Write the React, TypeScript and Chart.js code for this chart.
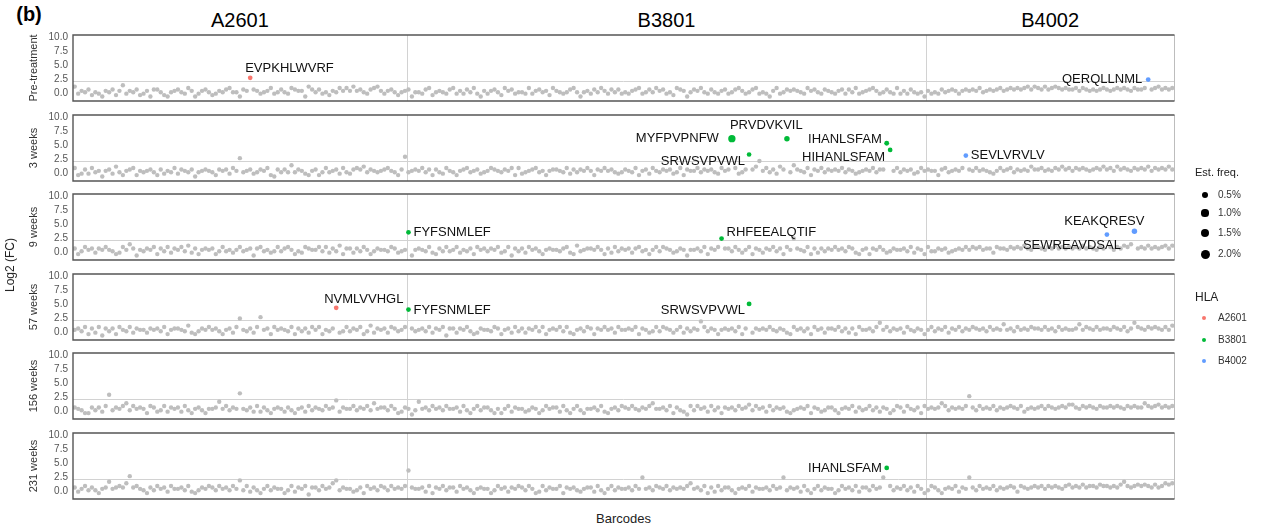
import React, { useEffect, useRef } from "react";
import { Chart, registerables } from "chart.js";

Chart.register(...registerables);

const FONT = '"Liberation Sans", Arial, sans-serif';

// ---------- data ----------
const GROUPS = ["A2601", "B3801", "B4002"];
const GROUP_SIZES = [97, 151, 72]; // barcodes per HLA allele
const PANELS = ["Pre-treatment", "3 weeks", "9 weeks", "57 weeks", "156 weeks", "231 weeks"];
const Y_TICKS = [0, 2.5, 5, 7.5, 10];
const THRESHOLD = 2.2;
const FREQ_LEGEND = [0.5, 1.0, 1.5, 2.0];
const HLA_COLORS = ["#F8766D", "#00BA38", "#619CFF"];

// Background (non-hit) barcodes, one character per barcode.
// Each character is a base-36 level in steps of 0.25 log2(FC), starting at -1.0 ('4' = 0.0).
const BG_PRE =
  "9465735426 5736a46573 4627753256 7548624675 3465785527 6876456845 7548766297 5745365868 " +
  "6967547896 4675356725 5478356547 8464758426 4675386745 5484675638 6545785256 4758647574 " +
  "5467845758 6745387625 7685475467 4578645784 5426845767 6548675476 5467475845 6786457548 " +
  "4647545264 5475676467 6768567678 6787878979 8797898787 7868767678 7678787687 7867897878";
const BG_W3 =
  "8347485626 7495367836 5675374658 4765725676 53767486f5 6745768327 575a576436 7358567485 " +
  "4787957656 786537g567 6857375486 5367856745 6876576838 4567856367 7658475768 6376867545 " +
  "7658367486 5767458376 6857675486 768457679d 685749765a 7658376857 6768576456 7685776768 " +
  "5767458676 6378567685 7686765468 6785767697 7867687978 6878767879 7869787687 8796878797";
const BG_W9 =
  "7358674768 653486a726 5768375847 6859473676 7358564685 6727856458 5786354876 6858475937 " +
  "7475863576 6587456726 7658437585 6846573867 5768458275 7486753676 6578439567 7686374857 " +
  "6747856368 5876457626 6758376857 7586468376 476857386e 7658374757 6867587436 7376864576 " +
  "6758476385 5767456768 6878677487 7687879768 8768797878 7879787687 7868798a87 8797878979";
const BG_W57 =
  "6758374827 5738658476 6476758367 7659435768 67536748e6 5748f67386 7658375748 6836576458 " +
  "5768359476 7487568375 6758476827 7476853476 6587367485 7476858367 6858436758 7376867486 " +
  "6768376458 5876468475 76c8576367 6758378476 7686576438 6757386747 7685747386 6758b68576 " +
  "7486576368 5768476857 6876758676 a675867687 7686758676 67a6876867 76876857b8 7687876869";
const BG_W156 =
  "7653375748 g5768a5867 6387458476 7485367536 67b68576h6 5748475367 6475367485 765867c476 " +
  "6857685a67 7586347625 b675867586 6748536857 7536368476 6457635867 7485368536 6758436758 " +
  "76865768a6 6758375428 5867485737 6758679586 7485767435 6768376457 7536768475 6857476358 " +
  "7486573867 67a8576768 f758676857 6787684676 7868767879 9768787687 7878768787 7a87897878";
const BG_W231 =
  "7468575367 b6787af786 5375867486 6758435768 75867586c5 8475368576 6358476827 75867ac576 " +
  "6457386758 7586768j76 6748376857 7486753676 6358674768 7586348576 6837675467 7485368576 " +
  "67586e6758 768576768a 6758374857 7536768476 675867e576 7485368576 6358675847 75867e6857 " +
  "6857486358 7536768476 e758676857 6787487678 7868787689 7879788798 87879b8789 8987978a9a";
const BG_SERIES = [BG_PRE, BG_W3, BG_W9, BG_W57, BG_W156, BG_W231];

// Highlighted (expanded) barcodes
const HIT_PANEL = [0, 0, 1, 1, 1, 1, 1, 1, 2, 2, 2, 2, 3, 3, 3, 5];
const HIT_BARCODE = [51, 312, 191, 207, 236, 237, 196, 259, 97, 188, 308, 300, 76, 97, 196, 236];
const HIT_VALUE = [2.8, 2.5, 6.2, 6.2, 5.4, 4.2, 3.4, 3.2, 3.6, 2.5, 3.8, 3.2, 4.4, 4.1, 5.1, 4.2];
const HIT_PEPTIDE = [
  "EVPKHLWVRF", "QERQLLNML", "MYFPVPNFW", "PRVDVKVIL", "IHANLSFAM", "HIHANLSFAM",
  "SRWSVPVWL", "SEVLVRVLV", "FYFSNMLEF", "RHFEEALQTIF", "KEAKQRESV", "SEWREAVDSAL",
  "NVMLVVHGL", "FYFSNMLEF", "SRWSVPVWL", "IHANLSFAM",
];
const HIT_HLA = [
  "A2601", "B4002", "B3801", "B3801", "B3801", "B3801", "B3801", "B4002",
  "B3801", "B3801", "B4002", "B4002", "A2601", "B3801", "B3801", "B3801",
];
const HIT_FREQ = [0.05, 0.05, 1.1, 0.3, 0.1, 0.05, 0.02, 0.05, 0.05, 0.05, 0.3, 0.05, 0.05, 0.05, 0.1, 0.05];

// ---------- styling (label placement, like ggrepel output) ----------
const LABEL_ALIGN: CanvasTextAlign[] = [
  "left", "right", "right", "left", "right", "right", "right", "left",
  "left", "left", "right", "right", "left", "left", "right", "right",
];
const LABEL_DX = [-5, -6, -13, -57, -5, -5, -4, 5, 5, 5, 10, 14, -12, 5, -4, -5];
const LABEL_DY = [-9, 0, 0, -13, -4, 7, 7, 0, 0, -6, -9.5, 11, -8, 1, 7, 0];

const TOTAL = GROUP_SIZES.reduce((a, b) => a + b, 0);
const Y_MIN = -1.3;
const Y_MAX = 10.4;
const PANEL_TOP0 = 32;
const PANEL_STEP = 79.6;
const PANEL_H = 72;
const PLOT_LEFT = 73;
const CANVAS_W = 1180;
const PAD_R = 6;
const PAD = 8;

const decode = (s: string) =>
  s.replace(/\s+/g, "").split("").map((c) => parseInt(c, 36) * 0.25 - 1.0);

const freqRadius = (f: number) => Math.sqrt(5.25 + 7.5 * f);

function Panel({ k }: { k: number }) {
  const ref = useRef<HTMLCanvasElement | null>(null);
  useEffect(() => {
    const canvas = ref.current;
    if (!canvas) return;
    const bg = decode(BG_SERIES[k]);
    const hits = HIT_PANEL.map((p, i) => (p === k ? i : -1)).filter((i) => i >= 0);
    const hitSet = new Set(hits.map((i) => HIT_BARCODE[i]));
    const gray: { x: number; y: number }[] = [];
    bg.forEach((v, i) => {
      if (!hitSet.has(i)) gray.push({ x: i + 0.5, y: v });
    });
    const hitData = hits.map((i) => ({ x: HIT_BARCODE[i] + 0.5, y: HIT_VALUE[i] }));
    const hitColors = hits.map((i) => HLA_COLORS[GROUPS.indexOf(HIT_HLA[i])]);
    const hitRadii = hits.map((i) => freqRadius(HIT_FREQ[i]));

    const deco = {
      id: "deco",
      beforeDatasetsDraw(chart: any) {
        const { ctx, chartArea, scales } = chart;
        const { left, right, top, bottom } = chartArea;
        ctx.save();
        ctx.strokeStyle = "#d2d2d2";
        ctx.lineWidth = 1;
        const ty = Math.round(scales.y.getPixelForValue(THRESHOLD)) + 0.5;
        ctx.beginPath();
        ctx.moveTo(left, ty);
        ctx.lineTo(right, ty);
        ctx.stroke();
        let acc = 0;
        for (let g = 0; g < GROUP_SIZES.length - 1; g++) {
          acc += GROUP_SIZES[g];
          const px = Math.round(scales.x.getPixelForValue(acc)) + 0.5;
          ctx.beginPath();
          ctx.moveTo(px, top);
          ctx.lineTo(px, bottom);
          ctx.stroke();
        }
        ctx.restore();
      },
      afterDatasetsDraw(chart: any) {
        const { ctx, scales } = chart;
        ctx.save();
        ctx.font = `13px ${FONT}`;
        ctx.fillStyle = "#111";
        ctx.textBaseline = "middle";
        hits.forEach((i) => {
          const px = scales.x.getPixelForValue(HIT_BARCODE[i] + 0.5);
          const py = scales.y.getPixelForValue(HIT_VALUE[i]);
          ctx.textAlign = LABEL_ALIGN[i];
          ctx.fillText(HIT_PEPTIDE[i], px + LABEL_DX[i], py + LABEL_DY[i]);
        });
        ctx.restore();
      },
      afterDraw(chart: any) {
        const { ctx, chartArea } = chart;
        const { left, right, top, bottom } = chartArea;
        ctx.save();
        ctx.strokeStyle = "#bdbdbd";
        ctx.lineWidth = 1;
        ctx.beginPath();
        ctx.moveTo(right + 0.5, top);
        ctx.lineTo(right + 0.5, bottom);
        ctx.stroke();
        ctx.strokeStyle = "#555";
        ctx.lineWidth = 1.4;
        ctx.beginPath();
        ctx.moveTo(right + 0.5, top);
        ctx.lineTo(left, top);
        ctx.lineTo(left, bottom);
        ctx.lineTo(right + 0.5, bottom);
        ctx.stroke();
        ctx.translate(34, (top + bottom) / 2);
        ctx.rotate(-Math.PI / 2);
        ctx.font = `11px ${FONT}`;
        ctx.fillStyle = "#333";
        ctx.textAlign = "center";
        ctx.textBaseline = "middle";
        ctx.fillText(PANELS[k], 0, 0);
        ctx.restore();
      },
    };

    const chart = new Chart(canvas, {
      type: "scatter",
      data: {
        datasets: [
          {
            data: gray,
            pointRadius: 2.2,
            pointBackgroundColor: "#bebebe",
            pointBorderWidth: 0,
            pointBorderColor: "rgba(0,0,0,0)",
          },
          {
            data: hitData,
            pointRadius: hitRadii,
            pointBackgroundColor: hitColors,
            pointBorderWidth: 0,
            pointBorderColor: "rgba(0,0,0,0)",
          },
        ],
      },
      options: {
        animation: false,
        responsive: false,
        maintainAspectRatio: false,
        events: [],
        layout: { padding: { left: 0, right: PAD_R, top: PAD, bottom: PAD } },
        plugins: {
          legend: { display: false },
          tooltip: { enabled: false },
          title: { display: false },
        },
        scales: {
          x: { type: "linear", min: 0, max: TOTAL, display: false },
          y: {
            type: "linear",
            min: Y_MIN,
            max: Y_MAX,
            afterBuildTicks: (s: any) => {
              s.ticks = Y_TICKS.map((v) => ({ value: v }));
            },
            afterFit: (s: any) => {
              s.width = PLOT_LEFT;
            },
            grid: { display: false, drawTicks: false },
            border: { display: false },
            ticks: {
              font: { size: 10, family: FONT },
              color: "#555",
              padding: 5,
              callback: (v: any) => Number(v).toFixed(1),
            },
          },
        },
      },
      plugins: [deco],
    } as any);
    return () => chart.destroy();
  }, [k]);

  const top = PANEL_TOP0 + PANEL_STEP * k - PAD;
  const h = PANEL_H + 2 * PAD;
  return (
    <canvas
      ref={ref}
      width={CANVAS_W}
      height={h}
      style={{ position: "absolute", left: 0, top, width: CANVAS_W, height: h }}
    />
  );
}

function Txt(props: {
  x: number;
  y: number;
  text: string;
  size: number;
  color?: string;
  bold?: boolean;
  anchor?: "center" | "left";
  rotate?: boolean;
}) {
  const { x, y, text, size, color = "#000", bold, anchor = "center", rotate } = props;
  const tx = anchor === "center" ? "-50%" : "0";
  return (
    <div
      style={{
        position: "absolute",
        left: x,
        top: y,
        transform: `translate(${tx}, -50%)${rotate ? " rotate(-90deg)" : ""}`,
        transformOrigin: anchor === "center" ? "50% 50%" : "0 50%",
        font: `${bold ? "bold " : ""}${size}px ${FONT}`,
        color,
        whiteSpace: "nowrap",
        lineHeight: 1,
      }}
    >
      {text}
    </div>
  );
}

function Dot({ x, y, r, color }: { x: number; y: number; r: number; color: string }) {
  return (
    <div
      style={{
        position: "absolute",
        left: x - r,
        top: y - r,
        width: 2 * r,
        height: 2 * r,
        borderRadius: "50%",
        background: color,
      }}
    />
  );
}

export default function App() {
  const plotW = CANVAS_W - PAD_R - PLOT_LEFT;
  let acc = 0;
  const headers = GROUPS.map((g, i) => {
    const start = acc;
    acc += GROUP_SIZES[i];
    const cx = PLOT_LEFT + (plotW * (start + acc)) / 2 / TOTAL;
    return <Txt key={g} x={cx} y={20} text={g} size={20} color="#000" />;
  });
  const freqY = [195, 213, 233, 254];
  const hlaY = [318, 340, 361];
  return (
    <div
      style={{
        position: "fixed",
        left: 0,
        top: 0,
        width: 1265,
        height: 529,
        background: "#fff",
        overflow: "hidden",
      }}
    >
      <Txt x={29} y={14} text="(b)" size={20} bold color="#000" />
      {headers}
      {PANELS.map((p, k) => (
        <Panel key={p} k={k} />
      ))}
      <Txt x={10} y={265} text="Log2 (FC)" size={12} color="#222" rotate />
      <Txt x={PLOT_LEFT + plotW / 2} y={518} text="Barcodes" size={13} color="#222" />
      <Txt x={1195} y={172} text="Est. freq." size={11} color="#222" anchor="left" />
      {FREQ_LEGEND.map((f, i) => (
        <React.Fragment key={f}>
          <Dot x={1205} y={freqY[i]} r={freqRadius(f)} color="#000" />
          <Txt x={1218} y={freqY[i]} text={`${f.toFixed(1)}%`} size={10} color="#333" anchor="left" />
        </React.Fragment>
      ))}
      <Txt x={1195} y={297} text="HLA" size={12} color="#222" anchor="left" />
      {GROUPS.map((g, i) => (
        <React.Fragment key={g}>
          <Dot x={1204} y={hlaY[i]} r={2} color={HLA_COLORS[i]} />
          <Txt x={1218} y={hlaY[i]} text={g} size={10} color="#333" anchor="left" />
        </React.Fragment>
      ))}
    </div>
  );
}
